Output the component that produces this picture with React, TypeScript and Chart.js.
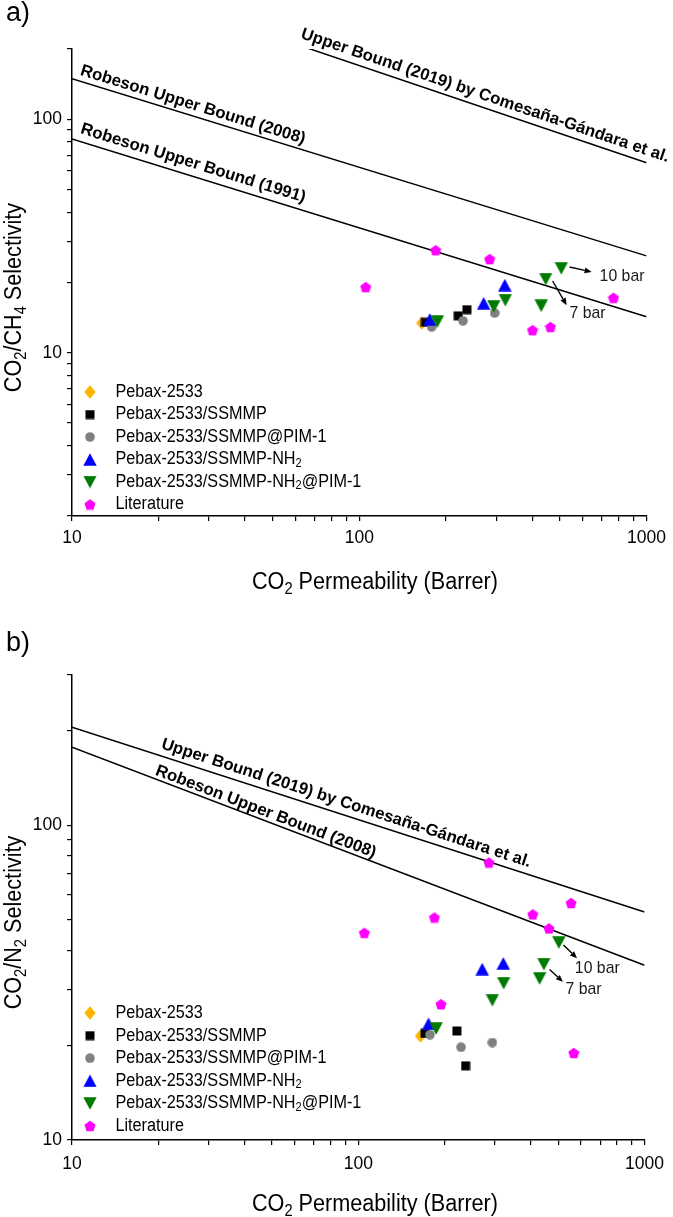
import React, { useEffect, useRef } from 'react';
import { Chart, registerables } from 'chart.js';

Chart.register(...registerables);

const FONT = '"Liberation Sans", Arial, Helvetica, sans-serif';

// ---------------- data ----------------
const xTickLabels = [10, 100, 1000];
const yTickLabelsA = [10, 100];
const yTickLabelsB = [10, 100];

const seriesNames = [
  'Pebax-2533',
  'Pebax-2533/SSMMP',
  'Pebax-2533/SSMMP@PIM-1',
  'Pebax-2533/SSMMP-NH₂',
  'Pebax-2533/SSMMP-NH₂@PIM-1',
  'Literature',
];
const seriesColors = ['#FFB400', '#000000', '#808080', '#0000FF', '#007A00', '#FF00FF'];
const seriesShapes = ['diamond', 'square', 'circle', 'triUp', 'triDown', 'pentagon'];

// CO2/CH4 panel (CO2 permeability [Barrer], selectivity)
const pebaxCH4 = [[165, 13.4]];
const ssmmpCH4 = [[170, 13.5], [221, 14.4], [237, 15.3]];
const ssmmpPimCH4 = [[178.6, 12.9], [229.6, 13.7], [296, 14.8]];
const nh2CH4 = [[176, 13.9], [271, 16.3], [321, 19.5]];
const nh2PimCH4 = [[187, 13.6], [294, 15.8], [322.5, 16.8], [430, 15.9], [445.6, 20.7], [505, 23.0]];
const literatureCH4 = [[105.3, 19.1], [184.5, 27.5], [284.4, 25.2], [401, 12.5], [463, 12.9], [767, 17.2]];

// CO2/N2 panel
const pebaxN2 = [[165, 21.4]];
const ssmmpN2 = [[171, 21.8], [221, 22.2], [237, 17.2]];
const ssmmpPimN2 = [[178, 21.6], [228.5, 19.7], [294, 20.4]];
const nh2N2 = [[176, 23.4], [271, 34.9], [321, 36.4]];
const nh2PimN2 = [[187, 22.6], [294, 27.8], [322, 31.5], [430, 32.6], [445, 36.2], [502, 42.4]];
const literatureN2 = [[105, 45.5], [184.5, 50.9], [194.5, 27.0], [286, 76.1], [407, 52.1], [463.6, 47.0], [554, 56.6], [566, 18.9]];

// upper bound lines (end points)
const robeson1991CH4 = [[10, 82.3], [1000, 14.26]];
const robeson2008CH4 = [[10, 149.1], [1000, 26.0]];
const comesana2019CH4 = [[10, 443], [1000, 65.1]];
const robeson2008N2 = [[10, 176.8], [1000, 35.9]];
const comesana2019N2 = [[10, 204.8], [1000, 53.0]];

// pressure annotations: arrow from, arrow to, label position
const arrowsCH4 = [
  { from: [539.6, 23.3], to: [644, 22.2], text: '10 bar', at: [686.5, 21.3] },
  { from: [471, 20.3], to: [527, 16.0], text: '7 bar', at: [539.6, 14.7] },
];
const arrowsN2 = [
  { from: [521, 41.6], to: [581, 37.8], text: '10 bar', at: [571, 35.2] },
  { from: [466, 34.8], to: [518.6, 31.8], text: '7 bar', at: [530, 30.1] },
];

// ---------------- helpers ----------------
function decadeTicks(min: number, max: number) {
  const out: number[] = [];
  for (let e = Math.floor(Math.log10(min)); e <= Math.ceil(Math.log10(max)); e++) {
    for (let m = 1; m <= 9; m++) {
      const v = Math.round(m * Math.pow(10, e) * 1000) / 1000;
      if (v >= min - 1e-9 && v <= max + 1e-9) out.push(v);
    }
  }
  return out;
}

function makeMarker(shape: string, color: string): HTMLCanvasElement {
  const dims: Record<string, [number, number]> = {
    diamond: [12, 14], square: [10, 10], circle: [10, 10],
    triUp: [14, 13], triDown: [14, 13], pentagon: [12, 12],
  };
  const [w, h] = dims[shape];
  const c = document.createElement('canvas');
  c.width = w; c.height = h;
  const g = c.getContext('2d')!;
  g.fillStyle = color;
  g.beginPath();
  if (shape === 'diamond') {
    g.moveTo(6, 0.3); g.lineTo(11.7, 7); g.lineTo(6, 13.7); g.lineTo(0.3, 7);
  } else if (shape === 'square') {
    g.rect(0.5, 0.5, 9, 9);
  } else if (shape === 'circle') {
    g.arc(5, 5, 4.8, 0, Math.PI * 2);
  } else if (shape === 'triUp') {
    g.moveTo(7, 0.3); g.lineTo(13.7, 12.7); g.lineTo(0.3, 12.7);
  } else if (shape === 'triDown') {
    g.moveTo(0.3, 0.3); g.lineTo(13.7, 0.3); g.lineTo(7, 12.7);
  } else {
    for (let k = 0; k < 5; k++) {
      const a = -Math.PI / 2 + (k * 2 * Math.PI) / 5;
      const px = 6 + 5.8 * Math.cos(a);
      const py = 6.5 + 5.8 * Math.sin(a);
      if (k === 0) g.moveTo(px, py); else g.lineTo(px, py);
    }
  }
  g.closePath();
  g.fill();
  return c;
}

const SUBS: Record<string, string> = { '₀': '0', '₁': '1', '₂': '2', '₃': '3', '₄': '4', '₅': '5', '₆': '6', '₇': '7', '₈': '8', '₉': '9' };
function toSegs(str: string) {
  const segs: { t: string; sub: boolean }[] = [];
  for (const ch of str) {
    const sub = ch in SUBS;
    const t = sub ? SUBS[ch] : ch;
    const last = segs[segs.length - 1];
    if (last && last.sub === sub) last.t += t; else segs.push({ t, sub });
  }
  return segs;
}

// draws text with real subscripts; sx = horizontal condensing factor
function drawRich(ctx: CanvasRenderingContext2D, text: string, x: number, y: number, size: number, align: 'left' | 'center', sx = 1, weight = 'normal') {
  const segs = toSegs(text);
  const fN = `${weight} ${size}px ${FONT}`;
  const fS = `${weight} ${size * 0.68}px ${FONT}`;
  let w = 0;
  for (const s of segs) { ctx.font = s.sub ? fS : fN; w += ctx.measureText(s.t).width; }
  ctx.save();
  ctx.translate(x, y);
  ctx.scale(sx, 1);
  let cx = align === 'center' ? -w / 2 : 0;
  ctx.textAlign = 'left';
  for (const s of segs) {
    ctx.font = s.sub ? fS : fN;
    ctx.fillText(s.t, cx, s.sub ? size * 0.22 : 0);
    cx += ctx.measureText(s.t).width;
  }
  ctx.restore();
}

function drawArrow(ctx: CanvasRenderingContext2D, x1: number, y1: number, x2: number, y2: number) {
  const a = Math.atan2(y2 - y1, x2 - x1);
  const L = 7, W = 3;
  const bx = x2 - L * Math.cos(a), by = y2 - L * Math.sin(a);
  ctx.strokeStyle = '#000';
  ctx.fillStyle = '#000';
  ctx.lineWidth = 1.4;
  ctx.beginPath(); ctx.moveTo(x1, y1); ctx.lineTo(bx, by); ctx.stroke();
  ctx.beginPath();
  ctx.moveTo(x2, y2);
  ctx.lineTo(bx + W * Math.sin(a), by - W * Math.cos(a));
  ctx.lineTo(bx - W * Math.sin(a), by + W * Math.cos(a));
  ctx.closePath(); ctx.fill();
}

// ---------------- panels ----------------
const xTicks = decadeTicks(10, 1000);

const panelA = {
  panel: 'a)', panelBaseline: 21,
  canvasH: 608, top: 49, xAxisHeight: 92, xTickPad: 7,
  yMin: 2, yMax: 200, yTickLabels: yTickLabelsA,
  series: [pebaxCH4, ssmmpCH4, ssmmpPimCH4, nh2CH4, nh2PimCH4, literatureCH4],
  lines: [robeson1991CH4, robeson2008CH4, comesana2019CH4],
  lineLabels: [
    { line: robeson2008CH4, text: 'Robeson Upper Bound (2008)', at: 10.47, offset: 6 },
    { line: robeson1991CH4, text: 'Robeson Upper Bound (1991)', at: 10.44, offset: 8 },
    { line: comesana2019CH4, text: 'Upper Bound (2019) by Comesaña-Gándara et al.', at: 61.1, offset: 7.2 },
  ],
  arrows: arrowsCH4,
  xTitle: 'CO₂ Permeability (Barrer)', xTitleBaseline: 588.5,
  yTitle: 'CO₂/CH₄ Selectivity', yTitleCenter: 297.5,
  legendTop: 392, legendGap: 22.5,
};

const panelB = {
  panel: 'b)', panelBaseline: 43,
  canvasH: 609, top: 67, xAxisHeight: 77, xTickPad: 9,
  yMin: 10, yMax: 300, yTickLabels: yTickLabelsB,
  series: [pebaxN2, ssmmpN2, ssmmpPimN2, nh2N2, nh2PimN2, literatureN2],
  lines: [robeson2008N2, comesana2019N2],
  lineLabels: [
    { line: comesana2019N2, text: 'Upper Bound (2019) by Comesaña-Gándara et al.', at: 20.0, offset: 7.2 },
    { line: robeson2008N2, text: 'Robeson Upper Bound (2008)', at: 19.2, offset: 4 },
  ],
  arrows: arrowsN2,
  xTitle: 'CO₂ Permeability (Barrer)', xTitleBaseline: 603,
  yTitle: 'CO₂/N₂ Selectivity', yTitleCenter: 314.5,
  legendTop: 405, legendGap: 22.6,
};

function decorPlugin(p: any, markers: HTMLCanvasElement[]) {
  return {
    id: 'decor',
    afterDraw(chart: any) {
      const ctx: CanvasRenderingContext2D = chart.ctx;
      const xs = chart.scales.x;
      const ys = chart.scales.y;
      ctx.save();
      ctx.fillStyle = '#000';
      ctx.textBaseline = 'alphabetic';

      // panel label
      ctx.font = `27px ${FONT}`;
      ctx.textAlign = 'left';
      ctx.fillText(p.panel, 6, p.panelBaseline);

      // axis titles
      drawRich(ctx, p.xTitle, 375, p.xTitleBaseline, 23.5, 'center', 0.92);
      ctx.save();
      ctx.translate(0, p.yTitleCenter);
      ctx.rotate(-Math.PI / 2);
      drawRich(ctx, p.yTitle, 0, 21, 23.5, 'center', 0.92);
      ctx.restore();

      // line labels
      for (const lab of p.lineLabels) {
        const [[p1, s1], [p2, s2]] = lab.line;
        const x1 = xs.getPixelForValue(p1), y1 = ys.getPixelForValue(s1);
        const x2 = xs.getPixelForValue(p2), y2 = ys.getPixelForValue(s2);
        const a = Math.atan2(y2 - y1, x2 - x1);
        const sx = xs.getPixelForValue(lab.at);
        const sy = y1 + ((sx - x1) * (y2 - y1)) / (x2 - x1);
        const bx = sx + lab.offset * Math.sin(a);
        const by = sy - lab.offset * Math.cos(a);
        ctx.save();
        ctx.translate(bx, by);
        ctx.rotate(a);
        ctx.font = `bold 16.7px ${FONT}`;
        ctx.textAlign = 'left';
        ctx.fillStyle = '#000';
        ctx.fillText(lab.text, 0, 0);
        ctx.restore();
      }

      // pressure arrows
      for (const ar of p.arrows) {
        drawArrow(
          ctx,
          xs.getPixelForValue(ar.from[0]), ys.getPixelForValue(ar.from[1]),
          xs.getPixelForValue(ar.to[0]), ys.getPixelForValue(ar.to[1])
        );
        ctx.fillStyle = '#1a1a1a';
        ctx.textBaseline = 'middle';
        drawRich(ctx, ar.text, xs.getPixelForValue(ar.at[0]), ys.getPixelForValue(ar.at[1]), 17, 'left', 0.93);
        ctx.textBaseline = 'alphabetic';
      }

      // legend
      ctx.textBaseline = 'middle';
      seriesNames.forEach((name, i) => {
        const yy = p.legendTop + i * p.legendGap;
        const m = markers[i];
        ctx.drawImage(m, 90 - m.width / 2, yy - m.height / 2);
        ctx.fillStyle = '#000';
        drawRich(ctx, name, 115.5, yy, 18, 'left', 0.9);
      });
      ctx.restore();
    },
  };
}

function buildConfig(p: any): any {
  const markers = seriesShapes.map((s, i) => makeMarker(s, seriesColors[i]));
  const yTicks = decadeTicks(p.yMin, p.yMax);
  const datasets: any[] = [
    ...p.lines.map((pts: number[][], i: number) => ({
      label: 'bound' + i,
      data: pts.map(([x, y]) => ({ x, y })),
      showLine: true,
      borderColor: '#000',
      borderWidth: 1.5,
      pointRadius: 0,
      fill: false,
      order: 20,
    })),
    ...p.series.map((pts: number[][], i: number) => ({
      label: seriesNames[i],
      data: pts.map(([x, y]) => ({ x, y })),
      pointStyle: markers[i],
      pointRadius: 6,
      backgroundColor: seriesColors[i],
      borderColor: seriesColors[i],
      order: 10 - i,
    })),
  ];
  return {
    type: 'scatter',
    data: { datasets },
    options: {
      responsive: false,
      maintainAspectRatio: false,
      animation: false,
      devicePixelRatio: 1,
      events: [],
      layout: { padding: { left: 0, right: 26, top: p.top, bottom: 0 } },
      plugins: { legend: { display: false }, tooltip: { enabled: false }, title: { display: false } },
      scales: {
        x: {
          type: 'logarithmic',
          position: 'bottom',
          min: 10,
          max: 1000,
          afterFit: (s: any) => { s.height = p.xAxisHeight; },
          afterBuildTicks: (s: any) => { s.ticks = xTicks.map((v) => ({ value: v })); },
          ticks: {
            autoSkip: false,
            maxRotation: 0,
            padding: p.xTickPad,
            color: '#000',
            font: { family: FONT, size: 17.5 },
            callback: (v: any) => (xTickLabels.includes(Number(v)) ? String(v) : ''),
          },
          grid: { display: true, drawOnChartArea: false, drawTicks: true, tickLength: 5, color: '#000', lineWidth: 1.2 },
          border: { display: true, color: '#000', width: 1.5 },
          title: { display: false },
        },
        y: {
          type: 'logarithmic',
          position: 'left',
          min: p.yMin,
          max: p.yMax,
          afterFit: (s: any) => { s.width = 72; },
          afterBuildTicks: (s: any) => { s.ticks = yTicks.map((v) => ({ value: v })); },
          ticks: {
            autoSkip: false,
            padding: 5,
            color: '#000',
            font: { family: FONT, size: 17.5 },
            callback: (v: any) => (p.yTickLabels.includes(Number(v)) ? String(v) : ''),
          },
          grid: { display: true, drawOnChartArea: false, drawTicks: true, tickLength: 5, color: '#000', lineWidth: 1.2 },
          border: { display: true, color: '#000', width: 1.5 },
          title: { display: false },
        },
      },
    },
    plugins: [decorPlugin(p, markers)],
  };
}

export default function App() {
  const refA = useRef<HTMLCanvasElement>(null);
  const refB = useRef<HTMLCanvasElement>(null);
  useEffect(() => {
    const a = new Chart(refA.current as HTMLCanvasElement, buildConfig(panelA));
    const b = new Chart(refB.current as HTMLCanvasElement, buildConfig(panelB));
    return () => {
      a.destroy();
      b.destroy();
    };
  }, []);
  return (
    <div style={{ position: 'absolute', left: 0, top: 0, width: 673, height: 1217, background: '#fff' }}>
      <canvas ref={refA} width={673} height={panelA.canvasH} style={{ display: 'block', width: 673, height: panelA.canvasH }} />
      <canvas ref={refB} width={673} height={panelB.canvasH} style={{ display: 'block', width: 673, height: panelB.canvasH }} />
    </div>
  );
}
